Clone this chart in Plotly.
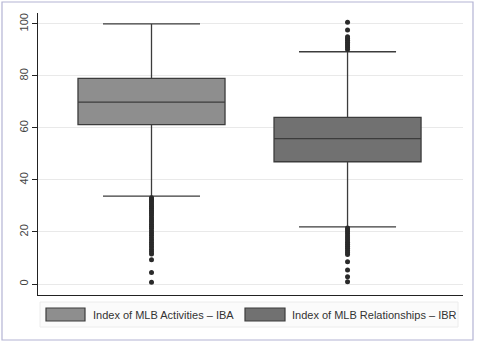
import plotly.graph_objects as go

# ---- data ----
series_names = ["Index of MLB Activities – IBA", "Index of MLB Relationships – IBR"]
positions = [0, 1]
q1_vals = [61.3, 47.0]
median_vals = [69.9, 55.9]
q3_vals = [79.1, 64.1]
lower_whisker = [33.8, 22.0]
upper_whisker = [100.0, 89.3]

iba_outliers = [0.7, 4.4, 9.3, 11.5, 12.4, 13.3, 14.2, 15.1, 16.0, 16.9, 17.8,
                18.7, 19.6, 20.5, 21.4, 22.2, 23.0, 23.8, 24.6, 25.4, 26.2,
                27.0, 27.7, 28.4, 29.1, 29.8, 30.5, 31.2, 31.9, 32.6, 33.2]
ibr_outliers = [0.9, 2.8, 5.4, 8.6, 11.3, 12.1, 12.9, 13.7, 14.5, 15.3, 16.1, 16.9,
                17.7, 18.5, 19.3, 20.1, 20.9, 21.5,
                90.2, 90.9, 91.6, 92.3, 93.0, 93.7, 94.4, 95.1, 97.7, 100.6]
outliers = [iba_outliers, ibr_outliers]

fills = ["#8e8e8e", "#717171"]
y_ticks = [0, 20, 40, 60, 80, 100]

fig = go.Figure()
for i in range(2):
    fig.add_trace(go.Box(
        x=[positions[i]], q1=[q1_vals[i]], median=[median_vals[i]], q3=[q3_vals[i]],
        lowerfence=[lower_whisker[i]], upperfence=[upper_whisker[i]],
        width=0.75, whiskerwidth=0.66, fillcolor=fills[i],
        line=dict(color="#3c3c3c", width=1.3), boxpoints=False,
        name=series_names[i], showlegend=False, hoverinfo="skip"))
    fig.add_trace(go.Scatter(
        x=[positions[i]] * len(outliers[i]), y=outliers[i], mode="markers",
        marker=dict(color="#2a2a2a", size=5), showlegend=False, hoverinfo="skip"))

# frame, legend
def px_x(p):
    return (p - 38) / 425.0

def px_y(p):
    return (295 - p) / 282.0

shapes = [
    dict(type="rect", xref="paper", yref="paper", x0=px_x(2), x1=px_x(473), y0=px_y(340), y1=px_y(2),
         line=dict(color="#b4b4d4", width=1.2), fillcolor="rgba(0,0,0,0)", layer="below"),
    dict(type="rect", xref="paper", yref="paper", x0=px_x(40), x1=px_x(458), y0=px_y(327), y1=px_y(302),
         line=dict(color="#ececec", width=1), fillcolor="#fbfbfb"),
    dict(type="rect", xref="paper", yref="paper", x0=px_x(46), x1=px_x(85), y0=px_y(321), y1=px_y(308),
         line=dict(color="#3c3c3c", width=1.2), fillcolor=fills[0]),
    dict(type="rect", xref="paper", yref="paper", x0=px_x(245), x1=px_x(285), y0=px_y(321), y1=px_y(308),
         line=dict(color="#3c3c3c", width=1.2), fillcolor=fills[1]),
]
annotations = [
    dict(xref="paper", yref="paper", x=px_x(91), y=px_y(314.5), text=series_names[0], showarrow=False,
         xanchor="left", yanchor="middle", font=dict(size=11, color="#333333")),
    dict(xref="paper", yref="paper", x=px_x(290), y=px_y(314.5), text=series_names[1], showarrow=False,
         xanchor="left", yanchor="middle", font=dict(size=11, color="#333333")),
]

fig.update_layout(
    width=477, height=344,
    margin=dict(l=38, r=14, t=13, b=49),
    paper_bgcolor="white", plot_bgcolor="white",
    font=dict(family="Liberation Sans, Arial, sans-serif", color="#333333"),
    shapes=shapes, annotations=annotations,
    xaxis=dict(range=[-0.579, 1.589], showticklabels=False, ticks="", showgrid=False,
               zeroline=False, showline=True, linecolor="#222222", linewidth=1.2),
    yaxis=dict(range=[-4.23, 104.2], tickvals=y_ticks, tickangle=-90, ticks="outside",
               ticklen=5, tickcolor="#222222", tickfont=dict(size=11, color="#444444"),
               showgrid=True, gridcolor="#e9e9e9", gridwidth=1, zeroline=False,
               showline=True, linecolor="#222222", linewidth=1.2),
)

fig.write_html("out.html", config={"displayModeBar": False},
               post_script="document.body.style.margin='0';document.body.style.overflow='hidden';")
